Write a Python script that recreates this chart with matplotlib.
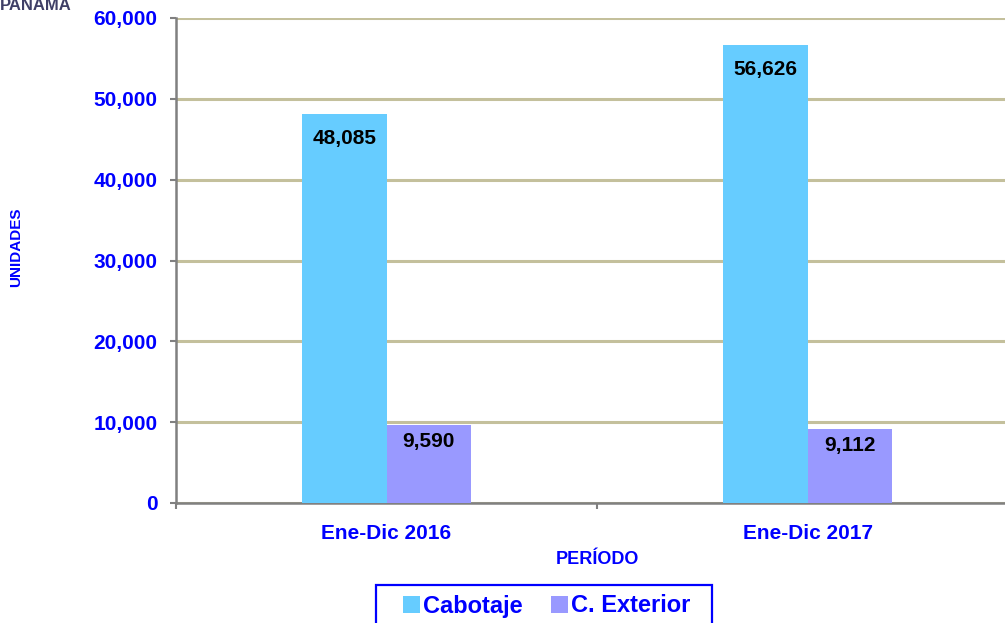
import matplotlib
matplotlib.use("Agg")
import matplotlib.pyplot as plt
from matplotlib.ticker import FuncFormatter, FixedLocator
from matplotlib.patches import Patch, Rectangle

plt.rcParams['font.family'] = ['Liberation Sans', 'DejaVu Sans']
plt.rcParams['font.weight'] = 'bold'

categories = ["Ene-Dic 2016", "Ene-Dic 2017"]
series_names = ["Cabotaje", "C. Exterior"]
cabotaje = [48085, 56626]
exterior = [9590, 9112]
yticks = [0, 10000, 20000, 30000, 40000, 50000, 60000]

colors = ["#66CCFF", "#9999FF"]
blue = "#0000FF"
grid_c = "#C4C09C"
axis_c = "#808080"

W, H = 1005, 623
fig = plt.figure(figsize=(W/100, H/100), dpi=100)
ax = fig.add_axes([176/W, 120/H, 842/W, 485/H])

x = list(range(len(categories)))
w = 0.2
b1 = ax.bar([i - w/2 for i in x], cabotaje, width=w, color=colors[0], zorder=3)
b2 = ax.bar([i + w/2 for i in x], exterior, width=w, color=colors[1], zorder=3)

for bars, vals, off in ((b1, cabotaje, -24), (b2, exterior, -16)):
    for r, v in zip(bars, vals):
        ax.annotate(f"{v:,}", (r.get_x() + r.get_width()/2, v),
                    xytext=(0, off * 72/100), textcoords="offset points",
                    ha="center", va="center", fontsize=15, fontweight="bold",
                    color="black", zorder=4)

ax.set_xlim(-0.5, 1.5)
ax.set_ylim(0, 60000)
ax.yaxis.set_major_locator(FixedLocator(yticks))
ax.yaxis.set_major_formatter(FuncFormatter(lambda v, p: f"{int(v):,}"))
ax.grid(axis="y", color=grid_c, linewidth=2.2, zorder=0)
ax.set_axisbelow(True)

ax.xaxis.set_major_locator(FixedLocator([-0.5, 0.5, 1.5]))
ax.xaxis.set_major_formatter(FuncFormatter(lambda v, p: ""))
ax.xaxis.set_minor_locator(FixedLocator(x))
ax.set_xticklabels(categories, minor=True)
ax.tick_params(axis="x", which="major", length=4.5, width=1.5, color=axis_c, direction="out")
ax.tick_params(axis="x", which="minor", length=0, pad=15, labelsize=15, labelcolor=blue)
ax.tick_params(axis="y", length=4.5, width=1.5, color=axis_c, pad=9, labelsize=15, labelcolor=blue)
for lab in ax.get_xticklabels(minor=True) + ax.get_yticklabels():
    lab.set_fontweight("bold")

for s in ["top", "right"]:
    ax.spines[s].set_visible(False)
for s in ["left", "bottom"]:
    ax.spines[s].set_color(axis_c)
    ax.spines[s].set_linewidth(1.8)

fig.text(597/W, 1 - 560/H, "PERÍODO", ha="center", va="center",
         fontsize=13, fontweight="bold", color=blue)
fig.text(16/W, 1 - 247/H, "UNIDADES", ha="center", va="center", rotation=90,
         fontsize=11, fontweight="bold", color=blue)
fig.text(0, 1 - 6/H, "PANAMA", ha="left", va="center",
         fontsize=12, fontweight="bold", color="#3F3F66")

handles = [Patch(facecolor=c, edgecolor="none") for c in colors]
leg = fig.legend(handles, series_names, loc="center",
                 bbox_to_anchor=(547/W, 1 - 606/H), ncol=2,
                 prop={"size": 17, "weight": "bold"}, frameon=False,
                 handlelength=0.7, handleheight=0.7, handletextpad=0.15,
                 columnspacing=1.2, borderpad=0, borderaxespad=0)
for t in leg.get_texts():
    t.set_color(blue)

fig.patches.append(Rectangle((376/W, -10/H), 336/W, (623 - 585 + 10)/H,
                             transform=fig.transFigure, fill=False,
                             edgecolor=blue, linewidth=1.6))

fig.savefig("out.png", dpi=100)
